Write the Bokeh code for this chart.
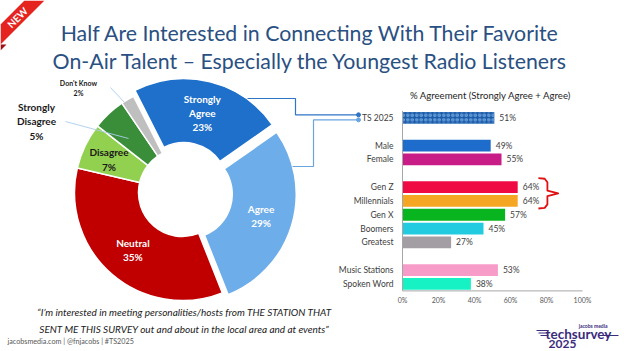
import numpy as np
from bokeh.plotting import figure
from bokeh.models import Range1d, LinearScale
from bokeh.embed import file_html
from bokeh.resources import INLINE
from bokeh.core.properties import value

# ---------------- data ----------------
title_lines = ["Half Are Interested in Connecting With Their Favorite",
               "On-Air Talent \u2013 Especially the Youngest Radio Listeners"]

slice_names = ["Strongly Agree", "Agree", "Neutral", "Disagree", "Strongly Disagree", "Don't Know"]
slice_labels = ["Strongly\nAgree", "Agree", "Neutral", "Disagree", "Strongly\nDisagree", "Don't Know"]
slice_values = [23, 29, 35, 7, 5, 2]
slice_colors = ["#1F70CB", "#6DADE9", "#C00000", "#92D050", "#3A8E3A", "#BFBFBF"]
slice_text_colors = ["white", "white", "white", "#1a1a1a", "#1a1a1a", "#1a1a1a"]

bar_title = "% Agreement (Strongly Agree + Agree)"
bar_group_sizes = [1, 2, 5, 2]
bar_categories = ["TS 2025", "Male", "Female", "Gen Z", "Millennials", "Gen X",
                  "Boomers", "Greatest", "Music Stations", "Spoken Word"]
bar_values = [51, 49, 55, 64, 64, 57, 45, 27, 53, 38]
bar_colors = ["#1D5CA8", "#1E6CCB", "#C81C86", "#F00A44", "#F5A623", "#08B51E",
              "#22CBE0", "#A39DA4", "#F79BC9", "#17F2C5"]
x_ticks = [0, 20, 40, 60, 80, 100]
x_tick_labels = ["0%", "20%", "40%", "60%", "80%", "100%"]

quote = ("\u201cI\u2019m interested in meeting personalities/hosts from THE STATION THAT\n"
         "SENT ME THIS SURVEY out and about in the local area and at events\u201d")
footer = "jacobsmedia.com | @fnjacobs | #TS2025"

# ---------------- layout ----------------
W, H = 624, 351
FONT = "Lato"
p = figure(width=W, height=H, x_range=Range1d(0, W), y_range=Range1d(H, 0),
           x_axis_type=None, y_axis_type=None, output_backend="svg",
           toolbar_location=None, min_border=0)
p.grid.visible = False
p.outline_line_color = None
p.background_fill_color = "white"
p.border_fill_color = "white"

# NEW ribbon
p.patch(x=[0, 24, 44, 0], y=[24, 0, 0, 44], fill_color="#E5231F", line_color=None)
p.patch(x=[0, 6, 0], y=[44, 44, 50], fill_color="#9E1212", line_color=None)
p.text(x=[17], y=[17], text=["NEW"], angle=np.radians(45), text_align="center",
       text_baseline="middle", text_color="white", text_font=value(FONT),
       text_font_style="bold", text_font_size="10px")

# title
p.text(x=[310, 310], y=[32, 60], text=title_lines, text_align="center",
       text_baseline="alphabetic", text_color="#2A5082", text_font=value(FONT),
       text_font_size="21.3px")

# ---------------- donut ----------------
cx, cy = 182, 192
R_out, R_in = 108, 44
start_deg = -27.0
explode = np.array([6, 6, 0, 0, 0, 0], dtype=float)
vals = np.array(slice_values, dtype=float)
cum = np.concatenate([[0], np.cumsum(vals)])
th0 = start_deg + 360 * cum[:-1] / vals.sum()
th1 = start_deg + 360 * cum[1:] / vals.sum()
mid = np.radians((th0 + th1) / 2)
sx = cx + explode * np.sin(mid)
sy = cy - explode * np.cos(mid)
p.annular_wedge(x=sx, y=sy, inner_radius=R_in, outer_radius=R_out,
                start_angle=np.radians(90 - th0), end_angle=np.radians(90 - th1),
                direction="clock", fill_color=slice_colors, line_color="white",
                line_width=1.5)

# inside labels
r_lab = 76
lab_x = list(sx[:4] + r_lab * np.sin(mid[:4]))
lab_y = list(sy[:4] - r_lab * np.cos(mid[:4]))
lab_x[3] -= 5
inside_text = [f"{slice_labels[i]}\n{slice_values[i]}%" for i in range(4)]
p.text(x=lab_x, y=lab_y, text=inside_text, text_align="center", text_baseline="middle",
       text_color=slice_text_colors[:4], text_font=value(FONT), text_font_style="bold",
       text_font_size="10px", text_line_height=1.2)

# outside labels with leader lines
p.segment(x0=[65, 110], y0=[121, 87], x1=[128, 124], y1=[138, 102],
          line_color="#A9CDEB", line_width=0.9)
p.text(x=[36], y=[121], text=[f"{slice_labels[4]}\n{slice_values[4]}%"],
       text_align="center", text_baseline="middle", text_color=slice_text_colors[4],
       text_font=value(FONT), text_font_style="bold", text_font_size="10px",
       text_line_height=1.2)
p.text(x=[78], y=[87], text=[f"{slice_labels[5]}\n{slice_values[5]}%"],
       text_align="center", text_baseline="middle", text_color=slice_text_colors[5],
       text_font=value(FONT), text_font_style="bold", text_font_size="7px",
       text_line_height=1.25)

# ---------------- bars (sub-coordinates) ----------------
slots = []
s = 0
for g in bar_group_sizes:
    for _ in range(g):
        slots.append(s)
        s += 1
    s += 1
n_slots = s - 1
bx0, bx1 = 402, 582
by0, by1 = 110.4, 290.4
sub = p.subplot(x_source=Range1d(0, 100), y_source=Range1d(-0.5, n_slots - 0.5),
                x_scale=LinearScale(), y_scale=LinearScale(),
                x_target=Range1d(bx0, bx1), y_target=Range1d(by0, by1))

sub.hbar(y=slots[1:], left=0, right=bar_values[1:], height=0.85,
         fill_color=bar_colors[1:], line_color=None)
sub.hbar(y=slots[:1], left=0, right=bar_values[:1], height=0.85,
         fill_color=bar_colors[:1], line_color=None, hatch_pattern="ring",
         hatch_color="#6FA6E0", hatch_scale=4.5, hatch_weight=1.2)

sub.text(x=bar_values, y=slots, text=[f"{v}%" for v in bar_values], x_offset=5,
         text_baseline="middle", text_color="#404040", text_font=value(FONT),
         text_font_size="8.5px")
sub.text(x=[0] * len(slots), y=slots, text=bar_categories, x_offset=-9,
         text_align="right", text_baseline="middle", text_color="#404040",
         text_font=value(FONT), text_font_size="8.5px")

# axis lines
sub.segment(x0=[0, 0], y0=[-0.5, n_slots - 0.5], x1=[0, 100],
            y1=[n_slots - 0.5, n_slots - 0.5], line_color="#A6A6A6", line_width=1)
sub.text(x=x_ticks, y=[n_slots - 0.5] * len(x_ticks), text=x_tick_labels, y_offset=9,
         text_align="center", text_baseline="middle", text_color="#595959",
         text_font=value(FONT), text_font_size="7px")
sub.text(x=[49], y=[-0.5], text=[bar_title], y_offset=-15, text_align="center",
         text_baseline="middle", text_color="#262626", text_font=value(FONT),
         text_font_size="9.6px")

# bracket around Gen Z + Millennials
gz = bar_categories.index("Gen Z")
mi = bar_categories.index("Millennials")
top, bot = slots[gz] - 0.65, slots[mi] + 0.55
midb = (top + bot) / 2
xb0 = max(bar_values[gz], bar_values[mi]) + 11.5
xm = xb0 + 5
xt = xb0 + 11
sub.line(x=[xb0, xb0 + 3.5, xm, xm, xt, xm, xm, xb0 + 3.5, xb0],
         y=[top, top + 0.05, top + 0.3, midb - 0.2, midb, midb + 0.2, bot - 0.3, bot - 0.05, bot],
         line_color="#E01010", line_width=1.8, line_join="round")

# connector lines donut -> TS 2025
ts_y = by0 + (slots[0] + 0.5) * (by1 - by0) / n_slots
p.line(x=[247, 295, 295, 358], y=[98, 98, ts_y - 3, ts_y - 3], line_color="#2E75C6",
       line_width=1.2)
p.line(x=[292, 313, 313, 358], y=[166, 166, ts_y + 2, ts_y + 2], line_color="#6AA5E0",
       line_width=1.2)
p.scatter(x=[358, 358], y=[ts_y - 3, ts_y + 2], size=4, color=["#2E75C6", "#6AA5E0"])

# quote + footer
p.text(x=[184], y=[320], text=[quote], text_align="center", text_baseline="middle",
       text_color="#1a1a1a", text_font=value(FONT), text_font_style="italic",
       text_font_size="10px", text_line_height=1.35)
p.text(x=[7], y=[341], text=[footer], text_baseline="middle", text_color="#595959",
       text_font=value(FONT), text_font_size="7.2px")

# logo
LOGO = "#3B2C7C"
p.text(x=[607], y=[325], text=["jacobs media"], text_align="right", text_baseline="middle",
       text_color=LOGO, text_font=value(FONT), text_font_style="bold", text_font_size="5px")
p.text(x=[578], y=[333], text=["techsurvey"], text_align="center", text_baseline="middle",
       text_color=LOGO, text_font=value(FONT), text_font_style="bold", text_font_size="13.5px")
p.text(x=[548], y=[343], text=["2025"], text_align="left", text_baseline="middle",
       text_color=LOGO, text_font=value(FONT), text_font_style="bold", text_font_size="12px")
p.segment(x0=[536, 538, 540, 602], y0=[330, 332.5, 335, 335], x1=[548, 548, 548, 618],
          y1=[330, 332.5, 335, 335], line_color=LOGO, line_width=1)

open("out.html", "w").write(file_html(p, INLINE))
